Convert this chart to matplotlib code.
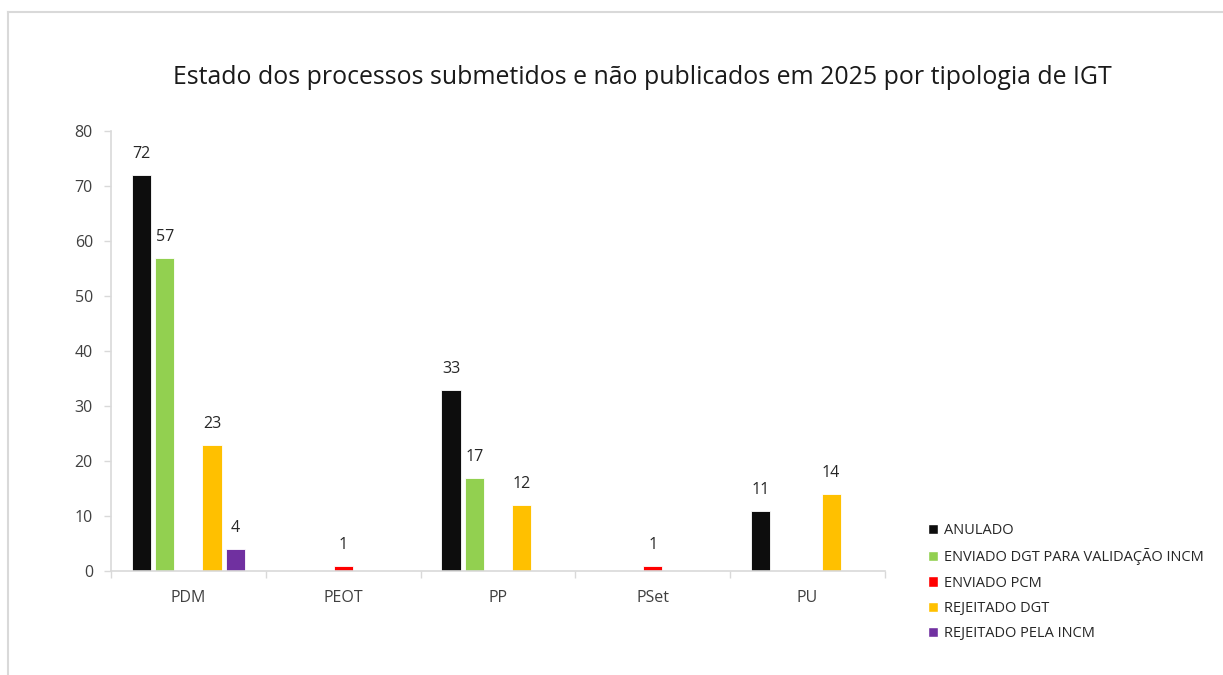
import numpy as np
import matplotlib.pyplot as plt
from matplotlib.patches import Patch
from matplotlib.lines import Line2D

plt.rcParams['font.family'] = ['Open Sans', 'DejaVu Sans']

categories = ['PDM', 'PEOT', 'PP', 'PSet', 'PU']
series_names = ['ANULADO', 'ENVIADO DGT PARA VALIDAÇÃO INCM', 'ENVIADO PCM',
                'REJEITADO DGT', 'REJEITADO PELA INCM']
anulado = [72, 0, 33, 0, 11]
enviado_dgt = [57, 0, 17, 0, 0]
enviado_pcm = [0, 1, 0, 1, 0]
rejeitado_dgt = [23, 0, 12, 0, 14]
rejeitado_incm = [4, 0, 0, 0, 0]
series_values = [anulado, enviado_dgt, enviado_pcm, rejeitado_dgt, rejeitado_incm]
colors = ['#0d0d0d', '#92D050', '#FF0000', '#FFC000', '#7030A0']

fig = plt.figure(figsize=(12.23, 6.75), dpi=100)
ax = fig.add_axes([111 / 1223, 1 - 571 / 675, (885 - 111) / 1223, (571 - 131) / 675])

x = np.arange(len(categories))
slot = 0.152
width = 0.124
for i, (name, vals, col) in enumerate(zip(series_names, series_values, colors)):
    pos = x + (i - 2) * slot
    bars = ax.bar(pos, vals, width=width, color=col, edgecolor='white', linewidth=0.6, label=name)
    for b, v in zip(bars, vals):
        if v:
            ax.text(b.get_x() + b.get_width() / 2, v + 2.3, str(v), ha='center', va='bottom',
                    fontsize=11.5, color='#262626')

ax.set_xlim(-0.5, 4.5)
ax.set_ylim(0, 80)
ax.set_yticks(range(0, 81, 10))
ax.set_xticks(x)
ax.set_xticklabels(categories)
ax.set_xticks(np.arange(-0.5, 5, 1), minor=True)
ax.tick_params(axis='x', which='major', length=0, pad=14, labelsize=11.5, labelcolor='#404040')
ax.tick_params(axis='x', which='minor', length=5, color='#d9d9d9', width=1)
ax.tick_params(axis='y', length=5, color='#d9d9d9', width=1, pad=8, labelsize=11.5, labelcolor='#404040')
for s in ['top', 'right']:
    ax.spines[s].set_visible(False)
for s in ['left', 'bottom']:
    ax.spines[s].set_color('#d9d9d9')
    ax.spines[s].set_linewidth(1.2)

fig.text(642 / 1223, 1 - 77 / 675, 'Estado dos processos submetidos e não publicados em 2025 por tipologia de IGT',
         ha='center', va='center', fontsize=17.9, color='#1a1a1a')

handles = [Patch(facecolor=c, edgecolor='white') for c in colors]
fig.legend(handles, series_names, loc='upper left', bbox_to_anchor=(915 / 1223, 1 - 510 / 675),
           frameon=False, fontsize=10.5, handlelength=0.7, handleheight=0.7, handletextpad=0.4,
           labelspacing=0.7, labelcolor='#262626')

# outer chart frame (cut at right and bottom)
fig.add_artist(Line2D([8 / 1223, 1], [1 - 12 / 675, 1 - 12 / 675], color='#d9d9d9', lw=1.5))
fig.add_artist(Line2D([8 / 1223, 8 / 1223], [0, 1 - 12 / 675], color='#d9d9d9', lw=1.5))

fig.savefig('out.png', dpi=100)
